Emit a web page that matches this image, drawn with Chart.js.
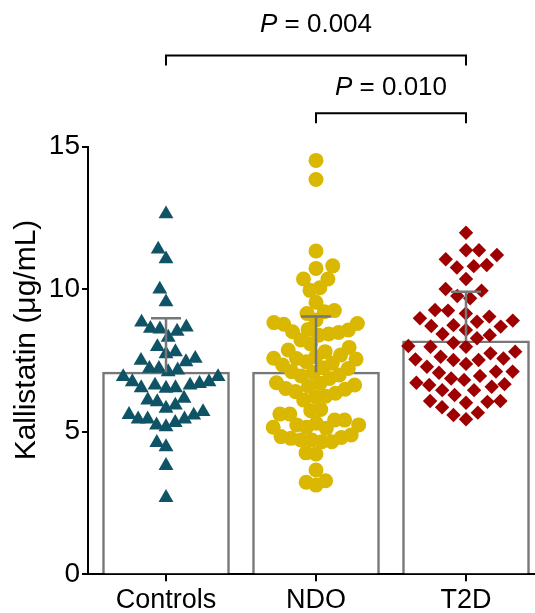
<!DOCTYPE html>
<html><head><meta charset="utf-8">
<script src="https://cdn.jsdelivr.net/npm/chart.js@4.4.1/dist/chart.umd.min.js"></script>
<style>html,body{margin:0;padding:0;background:#fff;overflow:hidden}#wrap{width:535px;height:613px;position:relative}</style>
</head><body><div id="wrap"><canvas id="c" width="535" height="613"></canvas></div>
<script>
// ---- data ----
const categories = ['Controls', 'NDO', 'T2D'];
const yTicks = [0, 5, 10, 15];
const barMeans = [7.09, 7.09, 8.19];
const errTops = [8.98, 9.04, 9.91];
const controls = [12.64, 11.4, 11.06, 10.0, 9.55,
  8.67, 8.6, 8.52, 8.62, 8.84, 8.31,
  7.98, 7.73, 7.5, 7.22, 7.45, 7.22, 7.57, 7.8,
  7.10, 6.93, 6.75, 6.63, 6.54, 6.52, 6.54, 6.63, 6.69, 6.75, 6.93, 7.16,
  6.11, 5.93, 5.70, 5.58, 5.44, 5.44, 5.44, 5.60, 5.82, 6.05, 6.17,
  5.17, 5.32, 5.23, 4.62, 4.47, 3.81, 2.69];
const ndo = [14.52, 13.85,
  11.34, 10.73, 10.82, 10.36, 10.36, 10.05, 9.96, 9.54, 9.15, 9.21, 9.25,
  8.83, 8.77, 8.57, 8.48, 8.39, 8.43, 8.51, 8.59, 8.80, 8.92,
  8.22, 7.96, 7.81, 7.63, 7.58, 7.69, 7.87, 8.08,
  7.57, 7.46, 7.34, 7.22, 7.08, 6.96, 6.87, 6.99, 7.11, 7.25, 7.40, 7.55,
  6.70, 6.64, 6.52, 6.41, 6.23, 6.11, 6.25, 6.35, 6.49, 6.60, 6.72,
  5.78, 5.74,
  5.62, 5.41, 5.24, 5.16, 5.12, 5.16, 5.24, 5.30, 5.41, 5.62,
  4.89, 4.77, 4.65, 4.71, 4.80, 4.65, 4.71, 4.83,
  4.26, 4.22,
  3.66, 3.28, 3.13, 3.23];
const t2d = [11.98, 11.37, 11.2, 11.37, 10.85, 10.76, 10.81, 11.05, 10.36, 10.01,
  9.76, 9.95, 9.68, 9.27, 9.15, 8.98, 8.86, 8.9, 9.04, 9.25,
  8.71, 8.57, 8.39, 8.12, 7.98, 7.98, 8.01, 8.28, 8.43, 8.69, 8.74,
  7.75, 7.81,
  7.57, 7.52, 7.38, 7.11, 7.28, 7.52, 7.54, 7.63,
  7.07, 7.11, 6.96, 6.64,
  6.87, 6.72, 6.58, 6.46, 6.29, 6.46, 6.67, 6.82,
  6.08, 6.02, 5.67, 5.44, 5.59, 5.86, 6.05, 6.08];
const comparisons = [
  {from: 0, to: 2, p: '0.004'},
  {from: 1, to: 2, p: '0.010'}
];

// ---- styling / layout ----
const FONT = "'Liberation Sans', Arial, Helvetica, sans-serif";
const GREY = '#777777';
const groupStyles = [
  {style: 'triangle', radius: 8.6, color: '#0f5466', s: 9.5, h: 17, maxHalf: 58},
  {style: 'circle', radius: 7.5, color: '#dab700', s: 10, h: 15, maxHalf: 54},
  {style: 'rectRot', radius: 7.2, color: '#9e0000', s: 13, h: 16, maxHalf: 58}
];
const bracketLevels = [18.2, 16.17];   // y value of bracket bars
const labelLevels = [19.26, 17.07];    // y value of label centres
const groups = [controls, ndo, t2d];

const overlay = {
  id: 'overlay',
  afterDatasetsDraw(chart) {
    const {ctx, scales: {x, y}} = chart;
    ctx.save();
    ctx.strokeStyle = GREY; ctx.lineWidth = 2.5; ctx.lineCap = 'butt';
    barMeans.forEach((m, i) => {
      const cx = x.getPixelForValue(i);
      const y0 = y.getPixelForValue(m), y1 = y.getPixelForValue(errTops[i]);
      ctx.beginPath();
      ctx.moveTo(cx, y0); ctx.lineTo(cx, y1);
      ctx.moveTo(cx - 15, y1); ctx.lineTo(cx + 15, y1);
      ctx.stroke();
    });
    ctx.restore();
  },
  afterDraw(chart) {
    const {ctx, scales: {x, y}} = chart;
    ctx.save();
    ctx.strokeStyle = '#000'; ctx.lineWidth = 2;
    ctx.fillStyle = '#000';
    comparisons.forEach((c, k) => {
      const x0 = x.getPixelForValue(c.from), x1 = x.getPixelForValue(c.to);
      const by = y.getPixelForValue(bracketLevels[k]);
      ctx.beginPath();
      ctx.moveTo(x0, by + 10); ctx.lineTo(x0, by); ctx.lineTo(x1, by); ctx.lineTo(x1, by + 10);
      ctx.stroke();
      const ly = y.getPixelForValue(labelLevels[k]);
      ctx.textBaseline = 'middle';
      ctx.font = 'italic 26px ' + FONT;
      const wP = ctx.measureText('P').width;
      ctx.font = '26px ' + FONT;
      const rest = ' = ' + c.p;
      const wR = ctx.measureText(rest).width;
      const start = (x0 + x1) / 2 - (wP + wR) / 2;
      ctx.font = 'italic 26px ' + FONT;
      ctx.textAlign = 'left';
      ctx.fillText('P', start, ly);
      ctx.font = '26px ' + FONT;
      ctx.fillText(rest, start + wP, ly);
    });
    // y axis title
    ctx.translate(27, 340);
    ctx.rotate(-Math.PI / 2);
    ctx.textAlign = 'center'; ctx.textBaseline = 'middle';
    ctx.font = '30px ' + FONT;
    ctx.fillText('Kallistatin (\u03bcg/mL)', 0, 0);
    ctx.restore();
  }
};

const ctx = document.getElementById('c').getContext('2d');
const chart = new Chart(ctx, {
  data: {
    datasets: [
      {type: 'bar', data: barMeans.map((v, i) => ({x: i, y: v})),
       backgroundColor: '#ffffff', borderColor: GREY, borderWidth: 2.5,
       barThickness: 127, order: 5},
      ...groups.map((g, i) => ({
        type: 'scatter', data: g.map(v => ({x: i, y: v})),
        pointStyle: groupStyles[i].style, pointRadius: groupStyles[i].radius,
        backgroundColor: groupStyles[i].color, borderColor: groupStyles[i].color,
        borderWidth: 0, order: 1
      }))
    ]
  },
  options: {
    responsive: false, animation: false,
    layout: {autoPadding: false, padding: {top: 146.7, left: 0, right: 0, bottom: 0}},
    plugins: {legend: {display: false}, tooltip: {enabled: false}},
    scales: {
      x: {
        type: 'linear', min: -0.52, max: 2.46, offset: false,
        afterBuildTicks: s => { s.ticks = categories.map((c, i) => ({value: i})); },
        afterFit: s => { s.height = 38.7; s.paddingLeft = 0; s.paddingRight = 0; },
        ticks: {callback: v => categories[v], font: {family: FONT, size: 27}, color: '#000',
                padding: 3, maxRotation: 0, autoSkip: false},
        grid: {offset: false, drawOnChartArea: false, drawTicks: true, tickLength: 7, color: '#000', lineWidth: 2},
        border: {color: '#000', width: 2}
      },
      y: {
        min: 0, max: 15,
        afterBuildTicks: s => { s.ticks = yTicks.map(v => ({value: v})); },
        afterFit: s => { s.width = 88; },
        ticks: {font: {family: FONT, size: 28}, color: '#000', padding: 2},
        grid: {drawOnChartArea: false, drawTicks: true, tickLength: 6, color: '#000', lineWidth: 2},
        border: {color: '#000', width: 2}
      }
    }
  },
  plugins: [overlay]
});

// beeswarm layout of the points, computed through the chart's scales
function swarm(values, ci, st) {
  const xs = chart.scales.x, ys = chart.scales.y;
  const cx = xs.getPixelForValue(ci);
  const pts = values.map(v => ({v, py: ys.getPixelForValue(v)}));
  const order = pts.slice().sort((a, b) => a.v - b.v);
  const placed = [];
  let flip = 1;
  order.forEach(p => {
    const near = placed.filter(q => Math.abs(q.py - p.py) < st.h);
    const ivs = near.map(q => {
      const dx = st.s * Math.sqrt(1 - ((q.py - p.py) / st.h) ** 2);
      return [q.px - dx, q.px + dx];
    });
    const cands = [cx];
    ivs.forEach(([a, b]) => cands.push(a, b));
    const free = c => ivs.every(([a, b]) => c <= a + 1e-6 || c >= b - 1e-6);
    let best = null, bd = Infinity;
    cands.forEach(c => {
      if (!free(c)) return;
      const d = Math.abs(c - cx) + (Math.sign(c - cx) === flip ? 0 : 1e-3);
      if (d < bd) { bd = d; best = c; }
    });
    if (best === null || Math.abs(best - cx) > st.maxHalf) {
      let bestScore = -Infinity;
      for (let c = cx - st.maxHalf; c <= cx + st.maxHalf; c += 0.5) {
        let m = Infinity;
        near.forEach(q => {
          const d = ((c - q.px) / st.s) ** 2 + ((p.py - q.py) / st.h) ** 2;
          m = Math.min(m, d);
        });
        const score = m - 0.002 * Math.abs(c - cx);
        if (score > bestScore) { bestScore = score; best = c; }
      }
    }
    flip = -flip;
    p.px = best;
    placed.push(p);
  });
  return pts.map(p => ({x: xs.getValueForPixel(p.px), y: p.v}));
}
groups.forEach((g, i) => { chart.data.datasets[i + 1].data = swarm(g, i, groupStyles[i]); });
chart.update('none');
</script>
</body></html>
